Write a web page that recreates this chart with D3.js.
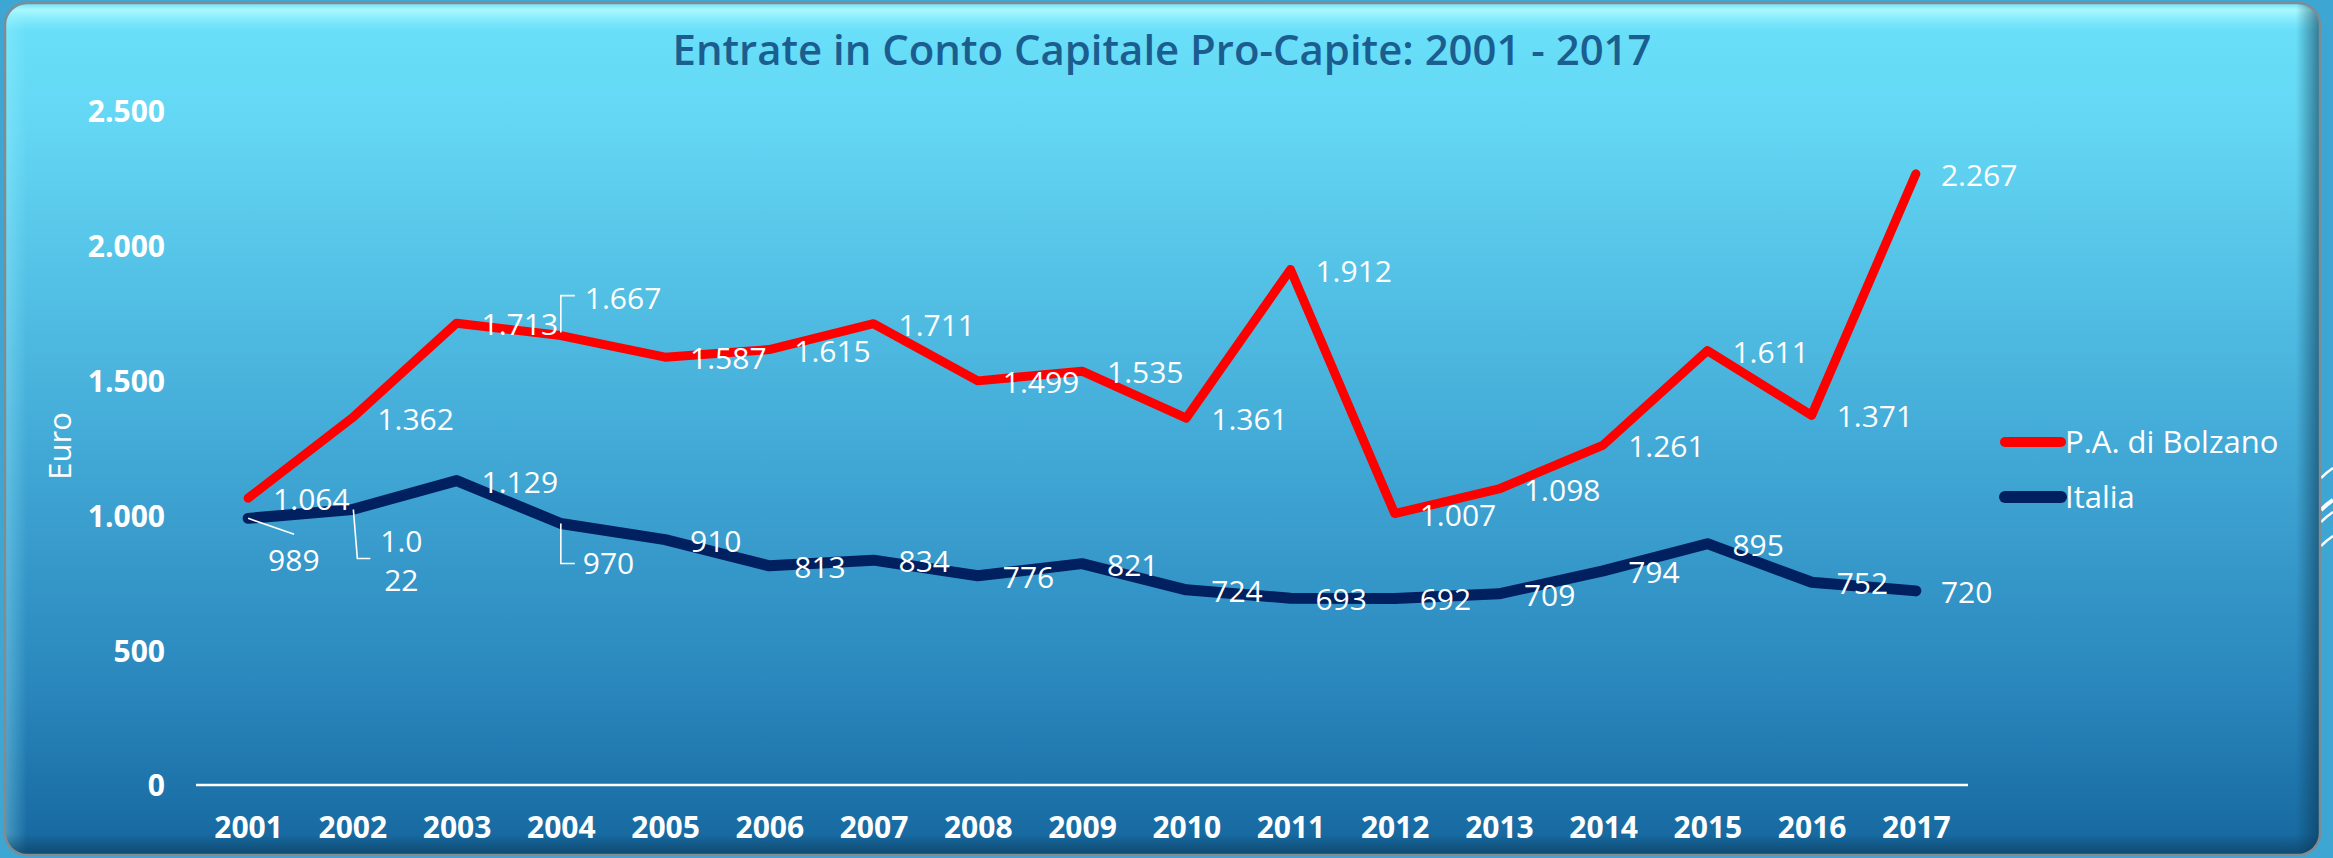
<!DOCTYPE html>
<html>
<head>
<meta charset="utf-8">
<script src="https://cdn.jsdelivr.net/npm/d3@7"></script>
<style>
  html, body { margin: 0; padding: 0; background: #3ea6d3; }
  svg { display: block; }
  text { font-family: "Open Sans", "DejaVu Sans", sans-serif; }
</style>
</head>
<body>
<svg id="chart" width="2333" height="858"></svg>
<script>
// ---------------- DATA ----------------
const years = ["2001","2002","2003","2004","2005","2006","2007","2008","2009","2010","2011","2012","2013","2014","2015","2016","2017"];
const bolzano = [1064, 1362, 1713, 1667, 1587, 1615, 1711, 1499, 1535, 1361, 1912, 1007, 1098, 1261, 1611, 1371, 2267];
const italia  = [989, 1022, 1129, 970, 910, 813, 834, 776, 821, 724, 693, 692, 709, 794, 895, 752, 720];
const seriesNames = ["P.A. di Bolzano", "Italia"];
const yTickValues = [0, 500, 1000, 1500, 2000, 2500];
const titleText = "Entrate in Conto Capitale Pro-Capite: 2001 - 2017";
const yAxisTitle = "Euro";

// ---------------- LAYOUT / STYLE (not data) ----------------
const W = 2333, H = 858;
const plot = { left: 196, right: 1968, top: 111, bottom: 785 };
const colors = { bolzano: "#ff0000", italia: "#002060" };
// label placement exceptions (offsets from the point), Excel-like manual positions
const labelOverrides = {
  "bolzano-3": { dx: 24, dy: -27, anchor: "start", leader: [[0,-3],[0,-40],[14,-40]] },
  "italia-0":  { dx: 20, dy: 53, anchor: "start", leader: [[0,0],[46,16]] },
  "italia-1":  { dx: 49, dy: 43, anchor: "middle", wrap: ["1.0","22"], lineGap: 39, leader: [[1,0],[5,49],[18,49]] },
  "italia-3":  { dx: 22, dy: 51, anchor: "start", leader: [[0,0],[0,40],[14,40]] }
};

const itLocale = d3.formatLocale({ decimal: ",", thousands: ".", grouping: [3], currency: ["€", ""] });
const fmt = itLocale.format(",d");

const svg = d3.select("#chart");
const defs = svg.append("defs");

// panel gradient
const g1 = defs.append("linearGradient").attr("id", "panelGrad").attr("x1", 0).attr("y1", 0).attr("x2", 0).attr("y2", 1);
g1.append("stop").attr("offset", "0%").attr("stop-color", "#6ae1fa");
g1.append("stop").attr("offset", "15%").attr("stop-color", "#63d6f3");
g1.append("stop").attr("offset", "50%").attr("stop-color", "#44acd8");
g1.append("stop").attr("offset", "80%").attr("stop-color", "#2a87bd");
g1.append("stop").attr("offset", "100%").attr("stop-color", "#15679e");

const gTop = defs.append("linearGradient").attr("id", "topHi").attr("x1", 0).attr("y1", 0).attr("x2", 0).attr("y2", 1);
gTop.append("stop").attr("offset", "0%").attr("stop-color", "#b5fbff").attr("stop-opacity", 0.0);
gTop.append("stop").attr("offset", "25%").attr("stop-color", "#b0fbff").attr("stop-opacity", 0.9);
gTop.append("stop").attr("offset", "100%").attr("stop-color", "#8ef0ff").attr("stop-opacity", 0);

const gRight = defs.append("linearGradient").attr("id", "rightSh").attr("x1", 0).attr("y1", 0).attr("x2", 1).attr("y2", 0);
gRight.append("stop").attr("offset", "0%").attr("stop-color", "#0b3550").attr("stop-opacity", 0);
gRight.append("stop").attr("offset", "100%").attr("stop-color", "#0b3550").attr("stop-opacity", 0.6);

const gBot = defs.append("linearGradient").attr("id", "botSh").attr("x1", 0).attr("y1", 0).attr("x2", 0).attr("y2", 1);
gBot.append("stop").attr("offset", "0%").attr("stop-color", "#0b3550").attr("stop-opacity", 0);
gBot.append("stop").attr("offset", "100%").attr("stop-color", "#0b3550").attr("stop-opacity", 0.6);

const gLeft = defs.append("linearGradient").attr("id", "leftHi").attr("x1", 0).attr("y1", 0).attr("x2", 1).attr("y2", 0);
gLeft.append("stop").attr("offset", "0%").attr("stop-color", "#9ff4ff").attr("stop-opacity", 0.35);
gLeft.append("stop").attr("offset", "100%").attr("stop-color", "#9ff4ff").attr("stop-opacity", 0);

defs.append("clipPath").attr("id", "panelClip")
  .append("rect").attr("x", 5).attr("y", 3).attr("width", 2315).attr("height", 852).attr("rx", 22);

// outer background
svg.append("rect").attr("width", W).attr("height", H).attr("fill", "#3ea6d3");
// swooshes outside at right
const sw = svg.append("g").attr("stroke", "#ffffff").attr("fill", "none");
[[478, 2.5], [510, 4], [522, 2.5], [546, 2.5]].forEach(([yy, w]) => {
  sw.append("path").attr("d", `M2321,${yy} Q2327,${yy - 6} 2333,${yy - 10}`).attr("stroke-width", w);
});

// panel
svg.append("rect").attr("x", 5).attr("y", 3).attr("width", 2315).attr("height", 852).attr("rx", 22)
  .attr("fill", "url(#panelGrad)");
const bev = svg.append("g").attr("clip-path", "url(#panelClip)");
bev.append("rect").attr("x", 5).attr("y", 3).attr("width", 2315).attr("height", 28).attr("fill", "url(#topHi)");
bev.append("rect").attr("x", 5).attr("y", 3).attr("width", 22).attr("height", 852).attr("fill", "url(#leftHi)");
bev.append("rect").attr("x", 2296).attr("y", 3).attr("width", 24).attr("height", 852).attr("fill", "url(#rightSh)");
bev.append("rect").attr("x", 5).attr("y", 834).attr("width", 2315).attr("height", 21).attr("fill", "url(#botSh)");
svg.append("rect").attr("x", 5).attr("y", 3).attr("width", 2315).attr("height", 852).attr("rx", 22)
  .attr("fill", "none").attr("stroke", "#7f8c94").attr("stroke-width", 2.5);

// ---------------- SCALES ----------------
const x = d3.scalePoint().domain(years).range([plot.left, plot.right]).padding(0.5);
const y = d3.scaleLinear().domain([0, 2500]).range([plot.bottom, plot.top]);

// title
svg.append("text")
  .attr("x", 1162).attr("y", 65)
  .attr("text-anchor", "middle")
  .attr("font-size", 41).attr("font-weight", 600)
  .attr("fill", "#1b5d8f")
  .attr("textLength", 979).attr("lengthAdjust", "spacingAndGlyphs")
  .text(titleText);

// y axis (labels only, no line)
const yAxis = d3.axisLeft(y).tickValues(yTickValues).tickFormat(fmt).tickSize(0).tickPadding(0);
const yG = svg.append("g").attr("transform", "translate(165,0)").call(yAxis);
yG.select(".domain").remove();
yG.selectAll("text")
  .attr("fill", "#ffffff").attr("font-size", 30).attr("font-weight", 700)
  .attr("font-family", "'Open Sans', sans-serif")
  .attr("dy", "0.36em");

// y axis title
svg.append("text")
  .attr("transform", "translate(59,446) rotate(-90)")
  .attr("text-anchor", "middle").attr("dominant-baseline", "central")
  .attr("font-size", 31).attr("font-weight", 500).attr("fill", "#ffffff")
  .text(yAxisTitle);

// x axis
const xAxis = d3.axisBottom(x).tickSize(0).tickPadding(0);
const xG = svg.append("g").attr("transform", `translate(0,${plot.bottom})`).call(xAxis);
xG.select(".domain").attr("stroke", "#ffffff").attr("stroke-width", 2.5)
  .attr("d", `M${plot.left},0H${plot.right}`);
xG.selectAll("text")
  .attr("fill", "#ffffff").attr("font-size", 30).attr("font-weight", 700)
  .attr("font-family", "'Open Sans', sans-serif")
  .attr("y", 53).attr("dy", 0);

// ---------------- LINES ----------------
const series = [
  { key: "bolzano", name: seriesNames[0], values: bolzano, color: colors.bolzano, width: 9 },
  { key: "italia", name: seriesNames[1], values: italia, color: colors.italia, width: 11 }
];
const line = d3.line().x((d, i) => x(years[i])).y(d => y(d));

[series[1], series[0]].forEach(s => {
  svg.append("path")
    .attr("d", line(s.values))
    .attr("fill", "none")
    .attr("stroke", s.color)
    .attr("stroke-width", s.width)
    .attr("stroke-linecap", "round")
    .attr("stroke-linejoin", "round");
});

// ---------------- DATA LABELS ----------------
const lbl = svg.append("g").attr("fill", "#ffffff").attr("font-size", 30).attr("font-weight", 500);
series.forEach(s => {
  s.values.forEach((v, i) => {
    const px = x(years[i]), py = y(v);
    const ov = labelOverrides[`${s.key}-${i}`];
    if (ov) {
      if (ov.leader) {
        lbl.append("path")
          .attr("d", d3.line()(ov.leader.map(p => [px + p[0], py + p[1]])))
          .attr("fill", "none").attr("stroke", "#ffffff").attr("stroke-width", 1.6);
      }
      const lines = ov.wrap || [fmt(v)];
      lines.forEach((t, k) => {
        lbl.append("text")
          .attr("x", px + ov.dx).attr("y", py + ov.dy + k * (ov.lineGap || 0))
          .attr("text-anchor", ov.anchor)
          .text(t);
      });
    } else {
      lbl.append("text")
        .attr("x", px + 25).attr("y", py + 12)
        .attr("text-anchor", "start")
        .text(fmt(v));
    }
  });
});

// ---------------- LEGEND ----------------
const legend = svg.append("g");
series.forEach((s, i) => {
  const ly = 442 + i * 55;
  legend.append("line")
    .attr("x1", 2005).attr("x2", 2061).attr("y1", ly).attr("y2", ly)
    .attr("stroke", s.color).attr("stroke-width", i === 0 ? 10 : 12)
    .attr("stroke-linecap", "round");
  legend.append("text")
    .attr("x", 2065).attr("y", ly + 11)
    .attr("fill", "#ffffff").attr("font-size", 31).attr("font-weight", 500)
    .text(s.name);
});
</script>
</body>
</html>
